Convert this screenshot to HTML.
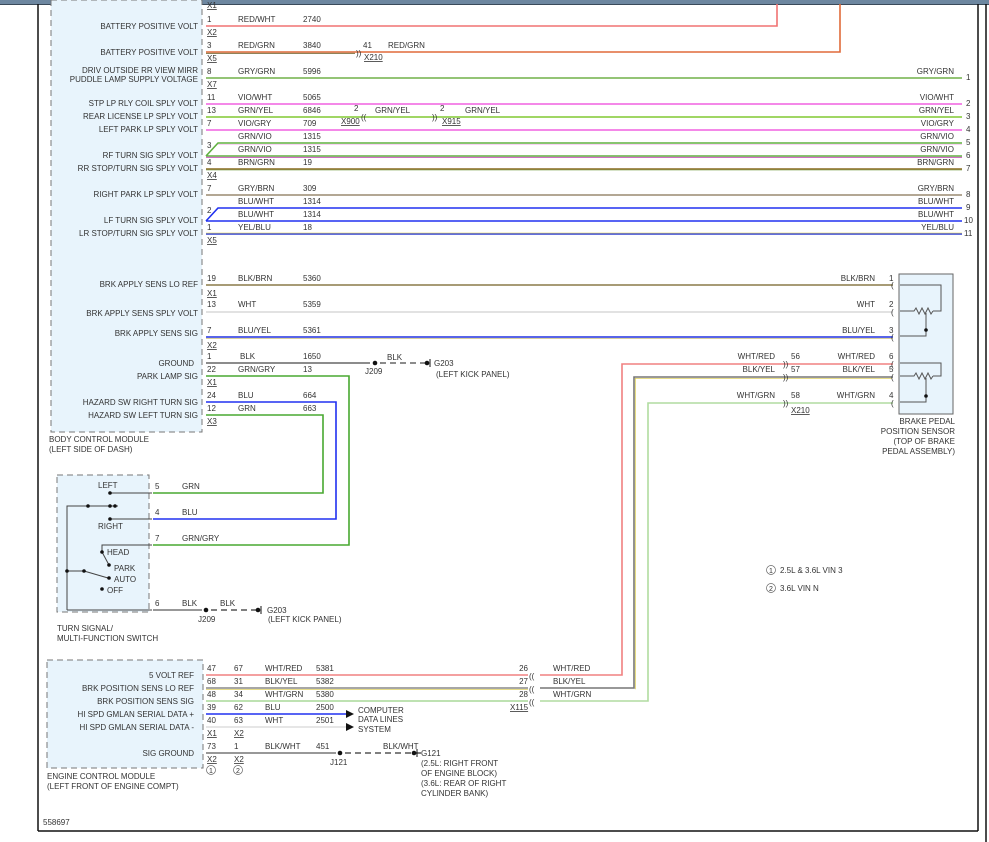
<!DOCTYPE html>
<html><head><meta charset="utf-8"><style>
html,body{margin:0;padding:0;background:#fff;}
svg{display:block;}
text{font-family:"Liberation Sans",sans-serif;font-size:8px;fill:#333;}
.r{text-anchor:end;}
.u{text-decoration:underline;}
</style></head><body>
<svg width="989" height="842" viewBox="0 0 989 842" xmlns="http://www.w3.org/2000/svg">
<rect x="0" y="0" width="989" height="4" fill="#6d87a0"/>
<rect x="0" y="4" width="989" height="1" fill="#3a4a5a"/>
<!-- frame -->
<line x1="38" y1="4" x2="38" y2="831" stroke="#111" stroke-width="1.5"/>
<line x1="38" y1="831" x2="978" y2="831" stroke="#111" stroke-width="1.5"/>
<line x1="978" y1="4" x2="978" y2="831" stroke="#111" stroke-width="1.5"/>
<line x1="986" y1="4" x2="986" y2="842" stroke="#111" stroke-width="1.5"/>

<!-- BCM box -->
<rect x="51" y="0" width="151" height="432" fill="#e8f4fc" stroke="#777" stroke-dasharray="6,4"/>
<g>
<text class="r" x="198" y="29">BATTERY POSITIVE VOLT</text>
<text class="r" x="198" y="55">BATTERY POSITIVE VOLT</text>
<text class="r" x="198" y="73">DRIV OUTSIDE RR VIEW MIRR</text>
<text class="r" x="198" y="82">PUDDLE LAMP SUPPLY VOLTAGE</text>
<text class="r" x="198" y="106">STP LP RLY COIL SPLY VOLT</text>
<text class="r" x="198" y="119">REAR LICENSE LP SPLY VOLT</text>
<text class="r" x="198" y="132">LEFT PARK LP SPLY VOLT</text>
<text class="r" x="198" y="158">RF TURN SIG SPLY VOLT</text>
<text class="r" x="198" y="171">RR STOP/TURN SIG SPLY VOLT</text>
<text class="r" x="198" y="197">RIGHT PARK LP SPLY VOLT</text>
<text class="r" x="198" y="223">LF TURN SIG SPLY VOLT</text>
<text class="r" x="198" y="236">LR STOP/TURN SIG SPLY VOLT</text>
<text class="r" x="198" y="287">BRK APPLY SENS LO REF</text>
<text class="r" x="198" y="316">BRK APPLY SENS SPLY VOLT</text>
<text class="r" x="198" y="336">BRK APPLY SENS SIG</text>
<text class="r" x="194" y="366">GROUND</text>
<text class="r" x="198" y="379">PARK LAMP SIG</text>
<text class="r" x="198" y="405">HAZARD SW RIGHT TURN SIG</text>
<text class="r" x="198" y="418">HAZARD SW LEFT TURN SIG</text>
<text x="49" y="442">BODY CONTROL MODULE</text>
<text x="49" y="452">(LEFT SIDE OF DASH)</text>
</g>

<!-- upper wires -->
<g fill="none" stroke-width="1.6">
<polyline points="206,26 777,26 777,4" stroke="#f07272"/>
<polyline points="206,52 840,52 840,4" stroke="#e06a3a"/>
<line x1="206" y1="53.3" x2="355" y2="53.3" stroke="#6b5a20" stroke-width="0.8"/>
<line x1="206" y1="78" x2="962" y2="78" stroke="#70b048"/>
<line x1="206" y1="104" x2="962" y2="104" stroke="#f060e0"/>
<line x1="206" y1="117" x2="962" y2="117" stroke="#80c830"/>
<line x1="206" y1="130" x2="962" y2="130" stroke="#f060e0"/>
<polyline points="206,156 218,143 962,143" stroke="#60b040"/>
<line x1="218" y1="144.5" x2="962" y2="144.5" stroke="#f7c0f0" stroke-width="0.8"/>
<line x1="206" y1="156" x2="962" y2="156" stroke="#60b040"/>
<line x1="206" y1="157.3" x2="962" y2="157.3" stroke="#c040b0" stroke-width="0.8"/>
<line x1="206" y1="169" x2="962" y2="169" stroke="#8a6a20"/>
<line x1="206" y1="170" x2="962" y2="170" stroke="#5a8a20" stroke-width="0.6"/>
<line x1="206" y1="195" x2="962" y2="195" stroke="#9a8a70"/>
<polyline points="206,221 218,208 962,208" stroke="#2030f0"/>
<line x1="206" y1="221" x2="962" y2="221" stroke="#2030f0"/>
<line x1="206" y1="234" x2="962" y2="234" stroke="#3040d0"/>
<line x1="206" y1="233" x2="962" y2="233" stroke="#e0d040" stroke-width="0.6"/>
</g>
<g>
<text x="207" y="8" class="u">X1</text>
<text x="207" y="22">1</text><text x="238" y="22">RED/WHT</text><text x="303" y="22">2740</text>
<text x="207" y="35" class="u">X2</text>
<text x="207" y="48">3</text><text x="238" y="48">RED/GRN</text><text x="303" y="48">3840</text>
<text x="363" y="48">41</text><text x="388" y="48">RED/GRN</text><text x="364" y="60" class="u">X210</text>
<text x="356" y="56">))</text>
<text x="207" y="61" class="u">X5</text>
<text x="207" y="74">8</text><text x="238" y="74">GRY/GRN</text><text x="303" y="74">5996</text>
<text x="207" y="87" class="u">X7</text>
<text x="207" y="100">11</text><text x="238" y="100">VIO/WHT</text><text x="303" y="100">5065</text>
<text x="207" y="113">13</text><text x="238" y="113">GRN/YEL</text><text x="303" y="113">6846</text>
<text x="354" y="111">2</text><text x="375" y="113">GRN/YEL</text><text x="341" y="124" class="u">X900</text><text x="361" y="120">((</text>
<text x="440" y="111">2</text><text x="465" y="113">GRN/YEL</text><text x="442" y="124" class="u">X915</text><text x="432" y="120">))</text>
<text x="207" y="126">7</text><text x="238" y="126">VIO/GRY</text><text x="303" y="126">709</text>
<text x="238" y="139">GRN/VIO</text><text x="303" y="139">1315</text>
<text x="207" y="148">3</text>
<text x="238" y="152">GRN/VIO</text><text x="303" y="152">1315</text>
<text x="207" y="165">4</text><text x="238" y="165">BRN/GRN</text><text x="303" y="165">19</text>
<text x="207" y="178" class="u">X4</text>
<text x="207" y="191">7</text><text x="238" y="191">GRY/BRN</text><text x="303" y="191">309</text>
<text x="238" y="204">BLU/WHT</text><text x="303" y="204">1314</text>
<text x="207" y="213">2</text>
<text x="238" y="217">BLU/WHT</text><text x="303" y="217">1314</text>
<text x="207" y="230">1</text><text x="238" y="230">YEL/BLU</text><text x="303" y="230">18</text>
<text x="207" y="243" class="u">X5</text>
<!-- right labels -->
<text class="r" x="954" y="74">GRY/GRN</text><text x="966" y="80">1</text>
<text class="r" x="954" y="100">VIO/WHT</text><text x="966" y="106">2</text>
<text class="r" x="954" y="113">GRN/YEL</text><text x="966" y="119">3</text>
<text class="r" x="954" y="126">VIO/GRY</text><text x="966" y="132">4</text>
<text class="r" x="954" y="139">GRN/VIO</text><text x="966" y="145">5</text>
<text class="r" x="954" y="152">GRN/VIO</text><text x="966" y="158">6</text>
<text class="r" x="954" y="165">BRN/GRN</text><text x="966" y="171">7</text>
<text class="r" x="954" y="191">GRY/BRN</text><text x="966" y="197">8</text>
<text class="r" x="954" y="204">BLU/WHT</text><text x="966" y="210">9</text>
<text class="r" x="954" y="217">BLU/WHT</text><text x="964" y="223">10</text>
<text class="r" x="954" y="230">YEL/BLU</text><text x="964" y="236">11</text>
</g>

<!-- lower BCM wires -->
<g fill="none" stroke-width="1.6">
<line x1="206" y1="285" x2="893" y2="285" stroke="#8a7a48"/>
<line x1="206" y1="312" x2="893" y2="312" stroke="#d8d8d8"/>
<line x1="206" y1="337" x2="893" y2="337" stroke="#2030e0"/>
<line x1="206" y1="338.3" x2="893" y2="338.3" stroke="#c0b060" stroke-width="0.6"/>
<line x1="206" y1="363" x2="370" y2="363" stroke="#666"/>
<line x1="380" y1="363" x2="426" y2="363" stroke="#666" stroke-dasharray="6,4"/>
<polyline points="206,376 349,376 349,545 153,545" stroke="#48a830"/>
<polyline points="206,402 336,402 336,519 153,519" stroke="#2030f0"/>
<polyline points="206,415 323,415 323,493 153,493" stroke="#48a830"/>
<!-- sensor wires -->
<polyline points="893,364 622,364 622,675 540,675" stroke="#f08080"/>
<polyline points="893,377 634,377 634,688 540,688" stroke="#777"/>
<polyline points="892,378.3 635.3,378.3 635.3,689.3" stroke="#d8c840" stroke-width="0.7"/>
<polyline points="893,403 648,403 648,701 540,701" stroke="#b0dca0"/>
<!-- ECM wires -->
<line x1="206" y1="675" x2="528" y2="675" stroke="#f08080"/>
<line x1="206" y1="688" x2="528" y2="688" stroke="#888"/>
<line x1="206" y1="689.3" x2="528" y2="689.3" stroke="#d8c840" stroke-width="0.7"/>
<line x1="206" y1="701" x2="528" y2="701" stroke="#a8d898"/>
<line x1="206" y1="714" x2="346" y2="714" stroke="#2030f0"/>
<line x1="206" y1="727" x2="346" y2="727" stroke="#ddd"/>
<line x1="206" y1="753" x2="336" y2="753" stroke="#777"/>
<line x1="345" y1="753" x2="424" y2="753" stroke="#555" stroke-dasharray="6,4"/>
<line x1="153" y1="610" x2="202" y2="610" stroke="#777"/>
<line x1="211" y1="610" x2="256" y2="610" stroke="#555" stroke-dasharray="6,4"/>
</g>
<g>
<text x="207" y="281">19</text><text x="238" y="281">BLK/BRN</text><text x="303" y="281">5360</text>
<text x="207" y="296" class="u">X1</text>
<text x="207" y="307">13</text><text x="238" y="307">WHT</text><text x="303" y="307">5359</text>
<text x="207" y="333">7</text><text x="238" y="333">BLU/YEL</text><text x="303" y="333">5361</text>
<text x="207" y="348" class="u">X2</text>
<text x="207" y="359">1</text><text x="240" y="359">BLK</text><text x="303" y="359">1650</text>
<circle cx="375" cy="363" r="2.3" fill="#111"/><text x="365" y="374">J209</text><text x="387" y="360">BLK</text>
<circle cx="427" cy="363" r="2.3" fill="#111"/><line x1="430" y1="359" x2="430" y2="367" stroke="#111"/>
<text x="434" y="366">G203</text><text x="436" y="377">(LEFT KICK PANEL)</text>
<text x="207" y="372">22</text><text x="238" y="372">GRN/GRY</text><text x="303" y="372">13</text>
<text x="207" y="385" class="u">X1</text>
<text x="207" y="398">24</text><text x="238" y="398">BLU</text><text x="303" y="398">664</text>
<text x="207" y="411">12</text><text x="238" y="411">GRN</text><text x="303" y="411">663</text>
<text x="207" y="424" class="u">X3</text>
</g>

<!-- sensor box -->
<rect x="899" y="274" width="54" height="140" fill="#e8f4fc" stroke="#666"/>
<g fill="none" stroke="#555" stroke-width="1">
<polyline points="900,285 941,285 941,311 933,311"/>
<polyline points="900,311 914,311 916,308 919,314 922,308 925,314 928,308 931,314 933,311"/>
<polyline points="926,313 926,336 900,336"/>
<polyline points="900,363 941,363 941,376 933,376"/>
<polyline points="900,376 914,376 916,373 919,379 922,373 925,379 928,373 931,379 933,376"/>
<polyline points="926,378 926,402 900,402"/>
</g>
<circle cx="926" cy="330" r="1.8" fill="#111"/><circle cx="926" cy="396" r="1.8" fill="#111"/>
<g>
<text class="r" x="875" y="281">BLK/BRN</text><text x="889" y="281">1</text>
<text class="r" x="875" y="307">WHT</text><text x="889" y="307">2</text>
<text class="r" x="875" y="333">BLU/YEL</text><text x="889" y="333">3</text>
<text class="r" x="875" y="359">WHT/RED</text><text x="889" y="359">6</text>
<text class="r" x="875" y="372">BLK/YEL</text><text x="889" y="372">5</text>
<text class="r" x="875" y="398">WHT/GRN</text><text x="889" y="398">4</text>
<text class="r" x="775" y="359">WHT/RED</text><text x="791" y="359">56</text>
<text class="r" x="775" y="372">BLK/YEL</text><text x="791" y="372">57</text>
<text class="r" x="775" y="398">WHT/GRN</text><text x="791" y="398">58</text>
<text x="791" y="413" class="u">X210</text>
<text x="783" y="367">))</text><text x="783" y="380">))</text><text x="783" y="406">))</text>
<text x="891" y="367">(</text><text x="891" y="380">(</text><text x="891" y="406">(</text>
<text x="891" y="288">(</text><text x="891" y="315">(</text><text x="891" y="340">(</text>
<text class="r" x="955" y="424">BRAKE PEDAL</text>
<text class="r" x="955" y="434">POSITION SENSOR</text>
<text class="r" x="955" y="444">(TOP OF BRAKE</text>
<text class="r" x="955" y="454">PEDAL ASSEMBLY)</text>
</g>

<!-- switch box -->
<rect x="57" y="475" width="92" height="137" fill="#e8f4fc" stroke="#777" stroke-dasharray="6,4"/>
<g fill="none" stroke="#444" stroke-width="1">
<line x1="110" y1="493" x2="152" y2="493"/>
<line x1="110" y1="519" x2="152" y2="519"/>
<polyline points="67,610 67,506 118,506"/>
<polyline points="102,552 102,545 152,545"/>
<line x1="102" y1="552" x2="109" y2="565"/>
<line x1="67" y1="571" x2="84" y2="571"/>
<line x1="84" y1="571" x2="108" y2="578"/>
<line x1="67" y1="610" x2="152" y2="610"/>
</g>
<g fill="#111">
<circle cx="110" cy="493" r="1.8"/><circle cx="88" cy="506" r="1.8"/><circle cx="110" cy="506" r="1.8"/><circle cx="115" cy="506" r="1.8"/>
<circle cx="110" cy="519" r="1.8"/><circle cx="102" cy="552" r="1.8"/><circle cx="109" cy="565" r="1.8"/>
<circle cx="67" cy="571" r="1.8"/><circle cx="84" cy="571" r="1.8"/><circle cx="109" cy="578" r="1.8"/><circle cx="102" cy="589" r="1.8"/>
</g>
<g>
<text x="98" y="488">LEFT</text><text x="98" y="529">RIGHT</text>
<text x="107" y="555">HEAD</text><text x="114" y="571">PARK</text><text x="114" y="582">AUTO</text><text x="107" y="593">OFF</text>
<text x="155" y="489">5</text><text x="182" y="489">GRN</text>
<text x="155" y="515">4</text><text x="182" y="515">BLU</text>
<text x="155" y="541">7</text><text x="182" y="541">GRN/GRY</text>
<text x="155" y="606">6</text><text x="182" y="606">BLK</text>
<circle cx="206" cy="610" r="2.3" fill="#111"/><text x="198" y="622">J209</text><text x="220" y="606">BLK</text>
<circle cx="258" cy="610" r="2.3" fill="#111"/><line x1="261" y1="606" x2="261" y2="614" stroke="#111"/>
<text x="267" y="613">G203</text><text x="268" y="622">(LEFT KICK PANEL)</text>
<text x="57" y="631">TURN SIGNAL/</text><text x="57" y="641">MULTI-FUNCTION SWITCH</text>
</g>

<!-- ECM -->
<rect x="47" y="660" width="156" height="108" fill="#e8f4fc" stroke="#777" stroke-dasharray="6,4"/>
<g>
<text class="r" x="194" y="678">5 VOLT REF</text>
<text class="r" x="194" y="691">BRK POSITION SENS LO REF</text>
<text class="r" x="194" y="704">BRK POSITION SENS SIG</text>
<text class="r" x="194" y="717">HI SPD GMLAN SERIAL DATA +</text>
<text class="r" x="194" y="730">HI SPD GMLAN SERIAL DATA -</text>
<text class="r" x="194" y="756">SIG GROUND</text>
<text x="47" y="779">ENGINE CONTROL MODULE</text>
<text x="47" y="789">(LEFT FRONT OF ENGINE COMPT)</text>
<text x="207" y="671">47</text><text x="234" y="671">67</text><text x="265" y="671">WHT/RED</text><text x="316" y="671">5381</text>
<text x="207" y="684">68</text><text x="234" y="684">31</text><text x="265" y="684">BLK/YEL</text><text x="316" y="684">5382</text>
<text x="207" y="697">48</text><text x="234" y="697">34</text><text x="265" y="697">WHT/GRN</text><text x="316" y="697">5380</text>
<text x="207" y="710">39</text><text x="234" y="710">62</text><text x="265" y="710">BLU</text><text x="316" y="710">2500</text>
<text x="207" y="723">40</text><text x="234" y="723">63</text><text x="265" y="723">WHT</text><text x="316" y="723">2501</text>
<text x="207" y="736" class="u">X1</text><text x="234" y="736" class="u">X2</text>
<text x="207" y="749">73</text><text x="234" y="749">1</text><text x="265" y="749">BLK/WHT</text><text x="316" y="749">451</text>
<text x="207" y="762" class="u">X2</text><text x="234" y="762" class="u">X2</text>
<circle cx="211" cy="770" r="4.5" fill="none" stroke="#666" stroke-width="0.7"/><text x="209" y="773" style="font-size:7px">1</text>
<circle cx="238" cy="770" r="4.5" fill="none" stroke="#666" stroke-width="0.7"/><text x="236" y="773" style="font-size:7px">2</text>
<polygon points="346,710 354,714 346,718" fill="#111"/>
<polygon points="346,723 354,727 346,731" fill="#111"/>
<text x="358" y="713">COMPUTER</text><text x="358" y="722">DATA LINES</text><text x="358" y="732">SYSTEM</text>
<circle cx="340" cy="753" r="2.3" fill="#111"/><text x="330" y="765">J121</text><text x="383" y="749">BLK/WHT</text>
<circle cx="414" cy="753" r="2.3" fill="#111"/><line x1="417" y1="749" x2="417" y2="757" stroke="#111"/>
<text x="421" y="756">G121</text>
<text x="421" y="766">(2.5L: RIGHT FRONT</text><text x="421" y="776">OF ENGINE BLOCK)</text>
<text x="421" y="786">(3.6L: REAR OF RIGHT</text><text x="421" y="796">CYLINDER BANK)</text>
<text class="r" x="528" y="671">26</text><text class="r" x="528" y="684">27</text><text class="r" x="528" y="697">28</text>
<text x="529" y="679">((</text><text x="529" y="692">((</text><text x="529" y="705">((</text>
<text x="510" y="710" class="u">X115</text>
<text x="553" y="671">WHT/RED</text><text x="553" y="684">BLK/YEL</text><text x="553" y="697">WHT/GRN</text>
<circle cx="771" cy="570" r="4.5" fill="none" stroke="#666" stroke-width="0.7"/><text x="769" y="573" style="font-size:7px">1</text>
<text x="780" y="573">2.5L &amp; 3.6L VIN 3</text>
<circle cx="771" cy="588" r="4.5" fill="none" stroke="#666" stroke-width="0.7"/><text x="769" y="591" style="font-size:7px">2</text>
<text x="780" y="591">3.6L VIN N</text>
<text x="43" y="825">558697</text>
</g>
</svg>
</body></html>
